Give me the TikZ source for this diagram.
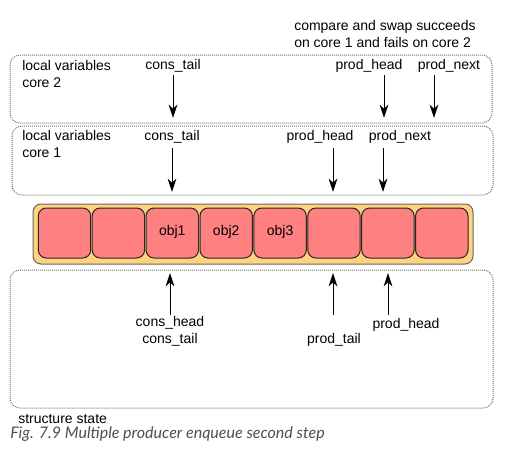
\documentclass[tikz,border=0pt]{standalone}
\usepackage{fontspec}
\setmainfont{Liberation Sans}
\newfontfamily\capfont{Lato}
\usetikzlibrary{calc, positioning, arrows.meta}
\definecolor{slotred}{HTML}{FF8080}
\definecolor{ringorange}{HTML}{FFD280}
\definecolor{capgray}{HTML}{4A4F5A}

\begin{document}
\begin{tikzpicture}[x=0.75pt, y=-0.75pt, >={Stealth[length=10pt, width=6.5pt, inset=3pt]},
    every node/.style={font=\fontsize{10.5}{12.75}\selectfont, inner sep=0pt}]
  \tikzset{varbox/.style={draw=black!55, line width=0.75pt, dash pattern=on 0.75pt off 0.75pt, rounded corners=7.5pt},
    slot/.style={draw=black!85, fill=slotred, line width=0.75pt, rounded corners=6pt, minimum width=39.3pt, minimum height=37.5pt},
    ptr/.style={->, line width=0.75pt},
    lbl/.style={anchor=base}}
  \useasboundingbox (0,0) rectangle (518,454);

  \draw[varbox] (10,55) rectangle (492,123);
  \draw[varbox] (12,126) rectangle (493,195);
  \draw[varbox] (10,270) rectangle (493,408);

  \node[anchor=base west, align=left] (core2) at (22,87) {local variables\\core 2};
  \node[anchor=base west, align=left] (core1) at (22,157) {local variables\\core 1};
  \node[anchor=base west] (state) at (18,423) {structure state};
  \node[anchor=base west, align=left] (cas) at (294,47) {compare and swap succeeds\\on core 1 and fails on core 2};

  \draw[draw=black!60, fill=ringorange, line width=0.75pt, rounded corners=6pt] (33,204) rectangle (473,264);
  \foreach \i in {0,...,7}
    \node[slot] (slot\i) at ({38.3+53.9*\i+26.2},233) {};
  \node[lbl] at ($(slot2)+(0,2)$) {obj1};
  \node[lbl] at ($(slot3)+(0,2)$) {obj2};
  \node[lbl] at ($(slot4)+(0,2)$) {obj3};

  \node[lbl] (ct2) at (173,69) {cons\_tail};
  \node[lbl] (ph2) at (369,69) {prod\_head};
  \node[lbl] (pn2) at (449,69) {prod\_next};
  \node[lbl] (ct1) at (172,140) {cons\_tail};
  \node[lbl] (ph1) at (320,140) {prod\_head};
  \node[lbl] (pn1) at (400,140) {prod\_next};
  \node[anchor=base, align=center] (chct) at (170,343) {cons\_head\\cons\_tail};
  \node[lbl] (pt) at (334,343) {prod\_tail};
  \node[lbl] (phs) at (406,328) {prod\_head};

  \coordinate (ct2a) at (173,75);  \coordinate (ct2b) at (173,118);
  \coordinate (ph2a) at (384,75);  \coordinate (ph2b) at (384,118);
  \coordinate (pn2a) at (434,75);  \coordinate (pn2b) at (434,118);
  \coordinate (ct1a) at (172,148); \coordinate (ct1b) at (172,192);
  \coordinate (ph1a) at (333,148); \coordinate (ph1b) at (333,192);
  \coordinate (pn1a) at (383,148); \coordinate (pn1b) at (383,192);
  \coordinate (chcta) at (170,315); \coordinate (chctb) at (170,273);
  \coordinate (pta) at (333,315);  \coordinate (ptb) at (333,273);
  \coordinate (phsa) at (388,315); \coordinate (phsb) at (388,273);
  \foreach \p in {ct2, ph2, pn2, ct1, ph1, pn1, chct, pt, phs}
    \draw[ptr] (\p a) -- (\p b);

  \node[anchor=base west, font=\capfont\itshape\fontsize{12}{14}\selectfont, text=capgray] (caption) at (10,438) {Fig. 7.9 Multiple producer enqueue second step};
\end{tikzpicture}
\end{document}
